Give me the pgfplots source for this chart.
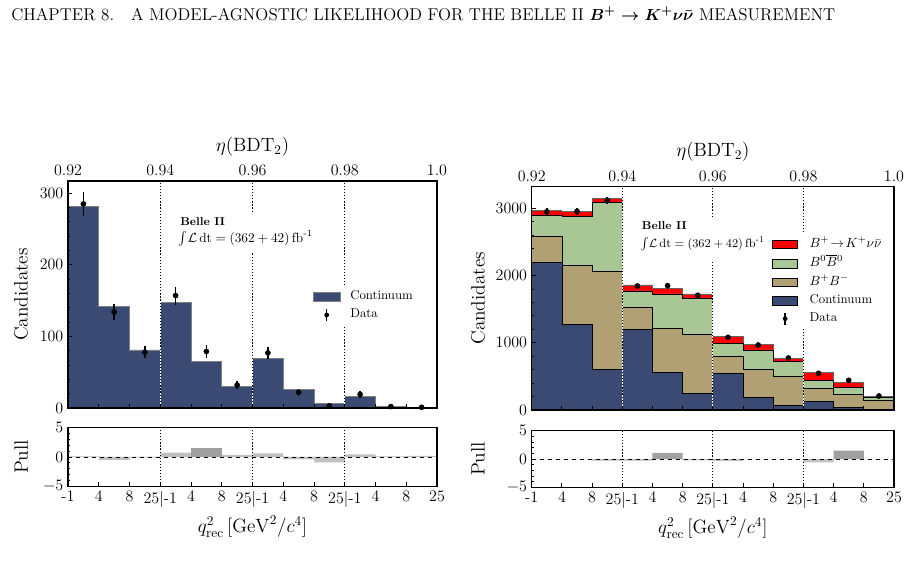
\documentclass[border=0pt]{standalone}
\usepackage{pgfplots}
\pgfplotsset{compat=1.18}
\usepackage{pgfplotstable}
\usepackage{amsmath}

\definecolor{contcol}{RGB}{58,74,115}
\definecolor{bpbmcol}{RGB}{176,160,115}
\definecolor{bzbzcol}{RGB}{169,199,148}
\definecolor{sigcol}{RGB}{255,0,0}
\definecolor{pulllight}{RGB}{192,192,192}
\definecolor{pulldark}{RGB}{160,160,160}

\newcommand\tickfont{\fontsize{12}{14}\selectfont}
\newcommand\labfont{\fontsize{14.5}{17}\selectfont}
\newcommand\legfont{\fontsize{9.6}{12}\selectfont}
\newcommand\expfont{\fontsize{8.6}{10}\selectfont\bfseries}
\newcommand\lumfont{\fontsize{10}{12}\selectfont}
\newcommand\lumfontsmall{\fontsize{9.4}{11}\selectfont}
\newcommand\lumi{$\int\!\mathcal{L}\,\mathrm{dt} = (362+42)\,\mathrm{fb}^{\text{-1}}$}

% Continuum-only selection: histogram tops at the left bin edges (last row closes the step)
\pgfplotstableread{
edge cont
0 281
1 142
2 81
3 147
4 65
5 29.6
6 69.5
7 25.8
8 6.1
9 16
10 2.3
11 0.5
12 0.5
}\lefthist

\pgfplotstableread{
x n err pull
0.5 285 16.9 0.1
1.5 134 11.6 -0.5
2.5 78 8.8 -0.1
3.5 157 12.5 0.75
4.5 79 8.9 1.5
5.5 32 5.7 0.35
6.5 77 8.8 0.6
7.5 22 4.7 -0.4
8.5 3 1.7 -0.9
9.5 19 4.4 0.45
10.5 2 1.4 0.1
11.5 1 1.0 0.2
}\leftdata

% Signal region: stacked components per bin
\pgfplotstableread{
edge cont bpbm bzbz sig
0 2198 379 315 74
1 1269 880 736 75
2 607 1448 1030 59
3 1201 327 243 89
4 561 655 510 75
5 248 879 540 59
6 546 253 194 108
7 193 413 287 85
8 70 436 223 40
9 124 199 113 125
10 34 194 110 74
11 10 134 39 25
12 10 134 39 25
}\righthist

\pgfplotstableread{
x n err pull
0.5 2950 54 0.0
1.5 2955 54 0.0
2.5 3119 56 -0.3
3.5 1845 43 -0.3
4.5 1850 43 1.1
5.5 1707 41 -0.25
6.5 1082 33 -0.35
7.5 967 31 0.0
8.5 774 28 0.0
9.5 546 23 -0.6
10.5 442 21 1.5
11.5 208 14 0.0
}\rightdata

\tikzset{
  sepline/.style={white, line width=0.9pt},
  sepdots/.style={black, line width=0.9pt, dash pattern=on 0.9pt off 1.4pt},
  legtext/.style={anchor=mid west, inner sep=0pt, font=\legfont},
  legbox/.style={line width=0.6pt},
}

\pgfplotsset{
  histaxis/.style={
    scale only axis, axis on top, tick align=inside,
    major tick length=3pt, minor tick length=1.6pt,
    every tick/.style={black, line width=0.7pt},
    axis line style={line width=0.9pt},
    tick label style={font=\tickfont},
    label style={font=\labfont},
    xmin=0, xmax=12, xtick={0,...,12},
    xtick pos=left, ytick pos=left,
  },
  topaxis/.style={
    scale only axis, xmin=0.92, xmax=1.0, ymin=0, ymax=1,
    hide y axis, axis x line*=top, x axis line style={draw=none},
    xtick={0.92,0.94,0.96,0.98,1.0},
    xticklabels={0.92,0.94,0.96,0.98,1.0},
    major tick length=0pt,
    tick label style={font=\tickfont},
    label style={font=\labfont},
    xlabel={$\eta(\mathrm{BDT}_2)$},
  },
  pullaxis/.style={
    histaxis, ymin=-5, ymax=5, ytick={-5,0,5}, minor y tick num=4,
    xticklabels={-1,4,8,25\textbar-1,4,8,25\textbar-1,4,8,25\textbar-1,4,8,25},
    xlabel={$q^2_{\mathrm{rec}}\,[\mathrm{GeV}^2/c^4]$},
    ylabel={Pull},
  },
  datapts/.style={only marks, mark=*, mark size=1.9pt, black,
    error bars/.cd, y dir=both, y explicit, error mark=none,
    error bar style={line width=1.1pt, black}},
}

\begin{document}
\begin{tikzpicture}
\path[use as bounding box] (0pt,0pt) rectangle (682.5pt,-435pt);

\node[anchor=base west, font=\fontsize{12.8}{15}\selectfont] at (5pt,-15.4pt)
  {CHAPTER 8.\quad A MODEL-AGNOSTIC LIKELIHOOD FOR THE BELLE II {\boldmath$B^+\to K^+\nu\bar{\nu}$} MEASUREMENT};

% ---------------- left: continuum ----------------
\begin{axis}[histaxis, at={(51pt,-135.75pt)}, anchor=north west,
  width=276.75pt, height=170.25pt,
  ymin=0, ymax=317, ytick={0,100,200,300}, minor y tick num=4,
  xticklabels={},
  ylabel={Candidates},
  y label style={at={(axis description cs:-0.127,0.5)}, anchor=center},
]
\addplot[const plot, fill=contcol, draw=gray, line width=0.7pt]
  table[x=edge, y=cont]{\lefthist} \closedcycle;
\addplot[datapts] table[x=x, y=n, y error=err]{\leftdata};
\draw[sepline] (axis cs:3,0) -- (axis cs:3,317);
\draw[sepdots] (axis cs:3,0) -- (axis cs:3,317);
\draw[sepline] (axis cs:6,0) -- (axis cs:6,317);
\draw[sepdots] (axis cs:6,0) -- (axis cs:6,317);
\draw[sepline] (axis cs:9,0) -- (axis cs:9,317);
\draw[sepdots] (axis cs:9,0) -- (axis cs:9,317);
\fill[white] (axis cs:3.545,217.8) rectangle (axis cs:8.0,270.9);
\node[anchor=base west, inner sep=0pt, font=\expfont] at (axis cs:3.642,255.5) {Belle II};
\node[anchor=base west, inner sep=0pt, font=\lumfont] at (axis cs:3.60,231.5) {\lumi};
\end{axis}
\begin{axis}[topaxis, at={(51pt,-135.75pt)}, anchor=north west,
  width=276.75pt, height=170.25pt]
\end{axis}

\begin{axis}[pullaxis, at={(51pt,-320.6pt)}, anchor=north west,
  width=276.75pt, height=44.25pt,
  y label style={at={(axis description cs:-0.127,0.5)}, anchor=center},
]
\addplot[ybar, bar width=1, bar shift=0pt, fill=pulllight, draw=none]
  table[x=x, y expr={abs(\thisrow{pull})>1 ? 0 : \thisrow{pull}}]{\leftdata};
\addplot[ybar, bar width=1, bar shift=0pt, fill=pulldark, draw=none]
  table[x=x, y expr={abs(\thisrow{pull})>1 ? \thisrow{pull} : 0}]{\leftdata};
\addplot[black, dashed, line width=0.7pt] coordinates {(0,0) (12,0)};
\draw[sepdots] (axis cs:3,-5) -- (axis cs:3,5);
\draw[sepdots] (axis cs:6,-5) -- (axis cs:6,5);
\draw[sepdots] (axis cs:9,-5) -- (axis cs:9,5);
\end{axis}

% legend of the continuum panel
\fill[white] (231.75pt,-214.5pt) rectangle (318.75pt,-243.75pt);
\draw[legbox, fill=contcol, draw=gray] (235pt,-219.3pt) rectangle (255pt,-225.7pt);
\node[legtext] at (262.5pt,-222.5pt) {Continuum};
\draw[black, line width=1.1pt] (245pt,-231.75pt) -- (245pt,-240.75pt);
\fill[black] (245pt,-236.25pt) circle (1.8pt);
\node[legtext] at (262.5pt,-236.25pt) {Data};

% ---------------- right: full stack ----------------
\begin{axis}[histaxis, at={(398.8pt,-140pt)}, anchor=north west,
  width=271.7pt, height=167.5pt,
  ymin=0, ymax=3323, ytick={0,1000,2000,3000}, yticklabels={0,1000,2000,3000},
  minor y tick num=4,
  xticklabels={},
  ylabel={Candidates},
  y label style={at={(axis description cs:-0.148,0.5)}, anchor=center},
]
\addplot[const plot, fill=sigcol, draw=black!60, line width=0.7pt]
  table[x=edge, y expr=\thisrow{cont}+\thisrow{bpbm}+\thisrow{bzbz}+\thisrow{sig}]{\righthist} \closedcycle;
\addplot[const plot, fill=bzbzcol, draw=black, line width=0.6pt]
  table[x=edge, y expr=\thisrow{cont}+\thisrow{bpbm}+\thisrow{bzbz}]{\righthist} \closedcycle;
\addplot[const plot, fill=bpbmcol, draw=black, line width=0.6pt]
  table[x=edge, y expr=\thisrow{cont}+\thisrow{bpbm}]{\righthist} \closedcycle;
\addplot[const plot, fill=contcol, draw=black, line width=0.6pt]
  table[x=edge, y=cont]{\righthist} \closedcycle;
\addplot[datapts] table[x=x, y=n, y error=err]{\rightdata};
\draw[sepline] (axis cs:3,0) -- (axis cs:3,3323);
\draw[sepdots] (axis cs:3,0) -- (axis cs:3,3323);
\draw[sepline] (axis cs:6,0) -- (axis cs:6,3323);
\draw[sepdots] (axis cs:6,0) -- (axis cs:6,3323);
\draw[sepline] (axis cs:9,0) -- (axis cs:9,3323);
\draw[sepdots] (axis cs:9,0) -- (axis cs:9,3323);
\fill[white] (axis cs:3.52,2217) rectangle (axis cs:7.73,2842);
\node[anchor=base west, inner sep=0pt, font=\expfont] at (axis cs:3.643,2680) {Belle II};
\node[anchor=base west, inner sep=0pt, font=\lumfontsmall] at (axis cs:3.60,2420) {\lumi};
\end{axis}
\begin{axis}[topaxis, at={(398.8pt,-140pt)}, anchor=north west,
  width=271.7pt, height=167.5pt]
\end{axis}

\begin{axis}[pullaxis, at={(398.8pt,-323pt)}, anchor=north west,
  width=271.7pt, height=42.5pt,
  y label style={at={(axis description cs:-0.148,0.5)}, anchor=center},
]
\addplot[ybar, bar width=1, bar shift=0pt, fill=pulllight, draw=none]
  table[x=x, y expr={abs(\thisrow{pull})>1 ? 0 : \thisrow{pull}}]{\rightdata};
\addplot[ybar, bar width=1, bar shift=0pt, fill=pulldark, draw=none]
  table[x=x, y expr={abs(\thisrow{pull})>1 ? \thisrow{pull} : 0}]{\rightdata};
\addplot[black, dashed, line width=0.7pt] coordinates {(0,0) (12,0)};
\draw[sepdots] (axis cs:3,-5) -- (axis cs:3,5);
\draw[sepdots] (axis cs:6,-5) -- (axis cs:6,5);
\draw[sepdots] (axis cs:9,-5) -- (axis cs:9,5);
\end{axis}

% legend of the stacked panel
\fill[white] (576pt,-175.5pt) rectangle (668pt,-246pt);
\draw[legbox, fill=sigcol] (579.5pt,-180.4pt) rectangle (598.3pt,-186.6pt);
\node[legtext] at (607pt,-183.5pt) {$B^+\!\rightarrow\! K^+\nu\bar{\nu}$};
\draw[legbox, fill=bzbzcol] (579.5pt,-194.75pt) rectangle (598.3pt,-200.95pt);
\node[legtext] at (607pt,-197.85pt) {$B^0\overline{B}{}^0$};
\draw[legbox, fill=bpbmcol] (579.5pt,-208.55pt) rectangle (598.3pt,-214.75pt);
\node[legtext] at (607pt,-211.65pt) {$B^+B^-$};
\draw[legbox, fill=contcol] (579.5pt,-222.5pt) rectangle (598.3pt,-228.7pt);
\node[legtext] at (607pt,-225.6pt) {Continuum};
\draw[black, line width=1.1pt] (588.9pt,-234.5pt) -- (588.9pt,-243.5pt);
\fill[black] (588.9pt,-239pt) circle (1.8pt);
\node[legtext] at (607pt,-239pt) {Data};
\end{tikzpicture}
\end{document}
